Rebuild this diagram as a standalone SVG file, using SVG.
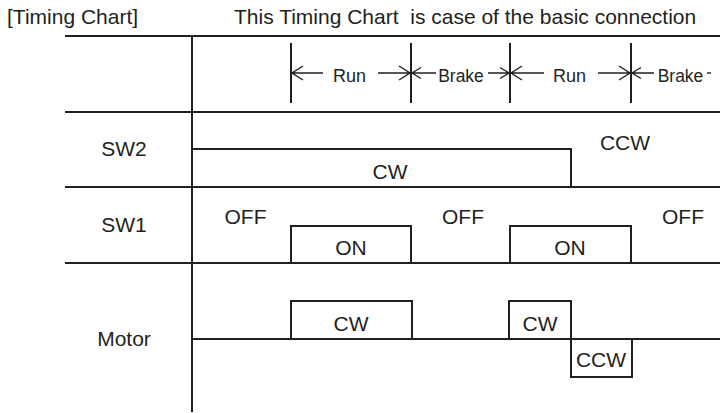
<svg xmlns="http://www.w3.org/2000/svg" width="720" height="413" viewBox="0 0 720 413">
<style>
text{font-family:"Liberation Sans",Arial,sans-serif;fill:#231f20}
.t{font-size:21px}
.lbl{font-size:21px;text-anchor:middle}
.run{font-size:18px;text-anchor:middle}
.brk{font-size:17.5px;text-anchor:middle}
.grid{stroke:#231f20;stroke-width:2;fill:none}
.sig{stroke:#231f20;stroke-width:2;fill:none;stroke-linejoin:miter}
.mk{stroke:#231f20;stroke-width:2}
.ar{stroke:#231f20;stroke-width:1.4;fill:none}
</style>
<rect width="720" height="413" fill="#fff"/>
<g id="title">
<text class="t" x="7" y="24">[Timing Chart]</text>
<text class="t" x="234" y="24" xml:space="preserve" style="white-space:pre">This Timing Chart  is case of the basic connection</text>
</g>
<g id="grid">
<line class="grid" x1="65" y1="36" x2="720" y2="36"/>
<line class="grid" x1="65" y1="112" x2="720" y2="112"/>
<line class="grid" x1="65" y1="187" x2="720" y2="187"/>
<line class="grid" x1="65" y1="263" x2="720" y2="263"/>
<line class="grid" x1="192" y1="36" x2="192" y2="412"/>
</g>
<g id="header">
<line class="mk" x1="291" y1="43" x2="291" y2="103"/>
<line class="mk" x1="411" y1="43" x2="411" y2="103"/>
<line class="mk" x1="510" y1="43" x2="510" y2="103"/>
<line class="mk" x1="631" y1="43" x2="631" y2="103"/>
<text class="run" x="349.5" y="82">Run</text>
<text class="brk" x="461" y="82">Brake</text>
<text class="run" x="569.5" y="82">Run</text>
<text class="brk" x="680.5" y="82">Brake</text>
</g>
<g id="connectors">
<path class="ar" d="M292 73H323M303 66L292 73L303 80"/>
<path class="ar" d="M378 73H410M399 66L410 73L399 80"/>
<path class="ar" d="M412 73H436M421 67.5L412 73L421 78.5"/>
<path class="ar" d="M488 73H509M500 67.5L509 73L500 78.5"/>
<path class="ar" d="M511 73H544M522 66L511 73L522 80"/>
<path class="ar" d="M598 73H630M619 66L630 73L619 80"/>
<path class="ar" d="M632 73H654M641 67.5L632 73L641 78.5"/>
<path class="ar" d="M707 73H711"/>
</g>
<g id="sw2">
<text class="lbl" x="124" y="156">SW2</text>
<path class="sig" d="M192 187V149H571V187"/>
<text class="lbl" x="390" y="179">CW</text>
<text class="lbl" x="625" y="150">CCW</text>
</g>
<g id="sw1">
<text class="lbl" x="124" y="232">SW1</text>
<path class="sig" d="M291 263V226H411V263"/>
<path class="sig" d="M510 263V226H631V263"/>
<text class="lbl" x="245.5" y="224">OFF</text>
<text class="lbl" x="463" y="224">OFF</text>
<text class="lbl" x="683" y="224">OFF</text>
<text class="lbl" x="351" y="255">ON</text>
<text class="lbl" x="570" y="255">ON</text>
</g>
<g id="motor">
<text class="lbl" x="124" y="346">Motor</text>
<line class="sig" x1="192" y1="339" x2="720" y2="339"/>
<path class="sig" d="M291 339V301H412V339"/>
<path class="sig" d="M509 339V301H571V377H632V339"/>
<text class="lbl" x="351" y="331">CW</text>
<text class="lbl" x="540" y="331">CW</text>
<text class="lbl" x="601" y="367">CCW</text>
</g>
</svg>
